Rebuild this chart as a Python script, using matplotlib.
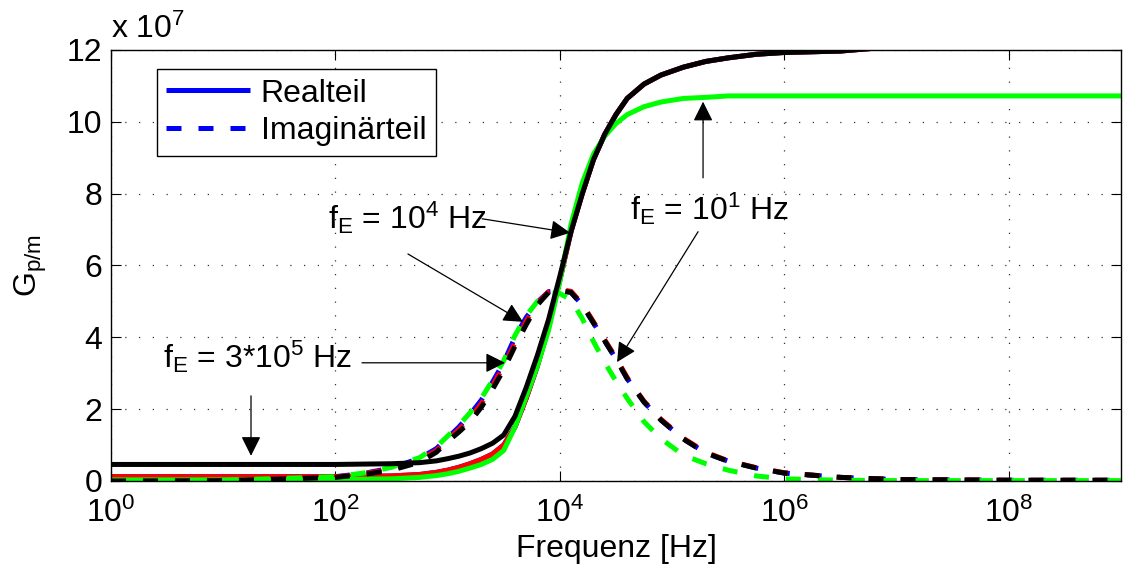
import matplotlib
matplotlib.use("Agg")
import matplotlib.pyplot as plt
from matplotlib.ticker import FixedLocator, NullLocator

plt.rcParams['font.family'] = ['Liberation Sans', 'DejaVu Sans']
plt.rcParams['mathtext.fontset'] = 'custom'
plt.rcParams['mathtext.rm'] = 'Liberation Sans'
plt.rcParams['mathtext.it'] = 'Liberation Sans:italic'
plt.rcParams['mathtext.bf'] = 'Liberation Sans:bold'

# Frequency grid [Hz]
freq = [1, 10, 100, 178, 316, 562, 794, 1000, 1259, 1585, 1995, 2512, 3162,
        3981, 5012, 6310, 7943, 10000, 12589, 15849, 19953, 25119, 31623,
        39811, 56234, 79433, 125893, 199526, 316228, 562341, 1.0e6, 3.16e6,
        1.0e7, 1.0e8, 1.0e9]

# Real parts G' [x 1e7]
real_blue = [0.12, 0.12, 0.12, 0.13, 0.14, 0.18, 0.24, 0.30, 0.38, 0.48, 0.60, 0.75,
             1.00, 1.50, 2.30, 3.20, 4.30, 5.60, 6.95, 8.00, 8.95, 9.65, 10.20,
             10.65, 11.05, 11.30, 11.52, 11.68, 11.78, 11.88, 11.93, 11.97, 12.10,
             12.10, 12.10]
real_red = [0.12, 0.12, 0.12, 0.13, 0.14, 0.18, 0.24, 0.30, 0.38, 0.48, 0.60, 0.75,
            1.00, 1.50, 2.30, 3.20, 4.30, 5.60, 6.95, 8.00, 8.95, 9.65, 10.20,
            10.65, 11.05, 11.30, 11.52, 11.68, 11.78, 11.88, 11.93, 11.97, 12.10,
            12.10, 12.10]
real_green = [0.03, 0.03, 0.04, 0.05, 0.06, 0.10, 0.15, 0.20, 0.27, 0.36, 0.46, 0.60,
              0.85, 1.50, 2.35, 3.20, 4.20, 5.55, 7.15, 8.30, 9.10, 9.60, 9.95,
              10.20, 10.42, 10.55, 10.65, 10.68, 10.72, 10.72, 10.72, 10.72, 10.72,
              10.72, 10.72]
real_black = [0.46, 0.46, 0.46, 0.47, 0.48, 0.51, 0.56, 0.62, 0.69, 0.78, 0.90, 1.05,
              1.28, 1.80, 2.60, 3.50, 4.50, 5.70, 6.95, 8.00, 8.95, 9.65, 10.20,
              10.65, 11.05, 11.30, 11.52, 11.68, 11.78, 11.88, 11.93, 11.97, 12.10,
              12.10, 12.10]

# Imaginary parts G'' [x 1e7]
imag_blue = [0.00, 0.02, 0.12, 0.21, 0.36, 0.63, 0.90, 1.20, 1.50, 1.85, 2.25, 2.75,
             3.30, 4.00, 4.55, 4.98, 5.27, 5.30, 5.25, 4.90, 4.40, 3.90, 3.40, 2.85,
             2.20, 1.70, 1.17, 0.78, 0.55, 0.36, 0.22, 0.10, 0.04, 0.02, 0.02]
imag_red = [0.00, 0.01, 0.11, 0.20, 0.33, 0.58, 0.85, 1.15, 1.43, 1.75, 2.15, 2.65,
            3.20, 3.85, 4.45, 4.95, 5.27, 5.33, 5.28, 4.93, 4.43, 3.93, 3.43, 2.88,
            2.22, 1.72, 1.19, 0.80, 0.56, 0.37, 0.23, 0.10, 0.04, 0.02, 0.02]
imag_green = [0.00, 0.02, 0.12, 0.22, 0.38, 0.65, 0.95, 1.25, 1.55, 1.90, 2.30, 2.80,
              3.35, 4.05, 4.60, 5.00, 5.25, 5.22, 5.04, 4.52, 3.88, 3.30, 2.78, 2.30,
              1.65, 1.18, 0.72, 0.48, 0.30, 0.14, 0.06, 0.02, 0.01, 0.01, 0.01]
imag_black = [0.00, 0.01, 0.10, 0.18, 0.30, 0.52, 0.80, 1.10, 1.36, 1.65, 2.05, 2.55,
              3.10, 3.75, 4.35, 4.90, 5.25, 5.30, 5.25, 4.90, 4.40, 3.90, 3.40, 2.85,
              2.20, 1.70, 1.17, 0.78, 0.55, 0.36, 0.22, 0.10, 0.04, 0.02, 0.02]

x_ticks = [1e0, 1e2, 1e4, 1e6, 1e8]
y_ticks = [0, 2, 4, 6, 8, 10, 12]

series = [
    ('#0000ff', real_blue, imag_blue, 0.0),
    ('#ff0000', real_red, imag_red, 0.0),
    ('#00ff00', real_green, imag_green, 3.2),
    ('#000000', real_black, imag_black, 0.0),
]

FS = 23
LW = 3.6

fig = plt.figure(figsize=(11.31, 5.69), dpi=100)
ax = fig.add_axes([0.0981, 0.1547, 0.8930, 0.7575])

handles = []
for color, re, im, offset in series:
    h1, = ax.plot(freq, re, color=color, lw=LW, solid_capstyle='butt',
                  solid_joinstyle='round')
    h2, = ax.plot(freq, im, color=color, lw=LW,
                  linestyle=(offset, (3.0, 3.4)), dash_capstyle='butt')
    handles.append((h1, h2))

ax.set_xscale('log')
ax.set_xlim(1, 1e9)
ax.set_ylim(0, 12)
ax.xaxis.set_major_locator(FixedLocator(x_ticks))
ax.xaxis.set_minor_locator(NullLocator())
ax.set_yticks(y_ticks)
ax.set_yticklabels([str(v) for v in y_ticks])

ax.grid(True, which='major', color='0.2', linestyle=(0, (1, 10)), linewidth=0.9)
ax.tick_params(which='both', direction='in', top=True, right=True,
               length=7.5, width=0.8, labelsize=FS)
ax.tick_params(axis='x', pad=12)
ax.tick_params(axis='y', pad=6)
for sp in ax.spines.values():
    sp.set_linewidth(1.0)

ax.set_xlabel('Frequenz [Hz]', fontsize=FS)
ax.xaxis.set_label_coords(0.5, -0.122)
ax.xaxis.label.set_va('top')
ax.set_ylabel(r'G$_{\mathrm{p/m}}$', fontsize=FS)
ax.yaxis.set_label_coords(-0.061, 0.5)

ax.text(0.0, 1.028, r'x 10$^{\mathrm{7}}$', transform=ax.transAxes,
        ha='left', va='baseline', fontsize=FS)

blue_re, blue_im = handles[0]
ax.legend([blue_re, blue_im], ['Realteil', 'Imaginärteil'],
          loc='upper left', bbox_to_anchor=(0.0455, 0.956), fontsize=FS,
          frameon=True, fancybox=False, framealpha=1, edgecolor='black',
          borderpad=0.3, labelspacing=0.25, handlelength=2.6,
          handletextpad=0.35, borderaxespad=0.0).get_frame().set_linewidth(1.0)

# Labels for the different cut-off frequencies
labels = [
    (r'f$_{\mathrm{E}}$ = 10$^{\mathrm{4}}$ Hz', 85.9, 7.02),
    (r'f$_{\mathrm{E}}$ = 3*10$^{\mathrm{5}}$ Hz', 2.91, 3.15),
    (r'f$_{\mathrm{E}}$ = 10$^{\mathrm{1}}$ Hz', 42270, 7.27),
]
for txt, x, y in labels:
    ax.text(x, y, txt, fontsize=FS, ha='left', va='baseline')

arrows = [
    ((2027, 7.30), (12340, 6.91)),
    ((443, 6.32), (4699, 4.43)),
    ((172.6, 3.29), (3250, 3.29)),
    ((17.7, 2.37), (17.7, 0.70)),
    ((188900, 8.44), (188900, 10.56)),
    ((170600, 6.94), (32350, 3.31)),
]
for tail, tip in arrows:
    ax.annotate('', xy=tip, xytext=tail,
                arrowprops=dict(arrowstyle='-|>,head_length=0.6,head_width=0.3',
                                mutation_scale=20, color='black', lw=0.9,
                                shrinkA=0, shrinkB=0))

fig.savefig('out.png', dpi=100)
